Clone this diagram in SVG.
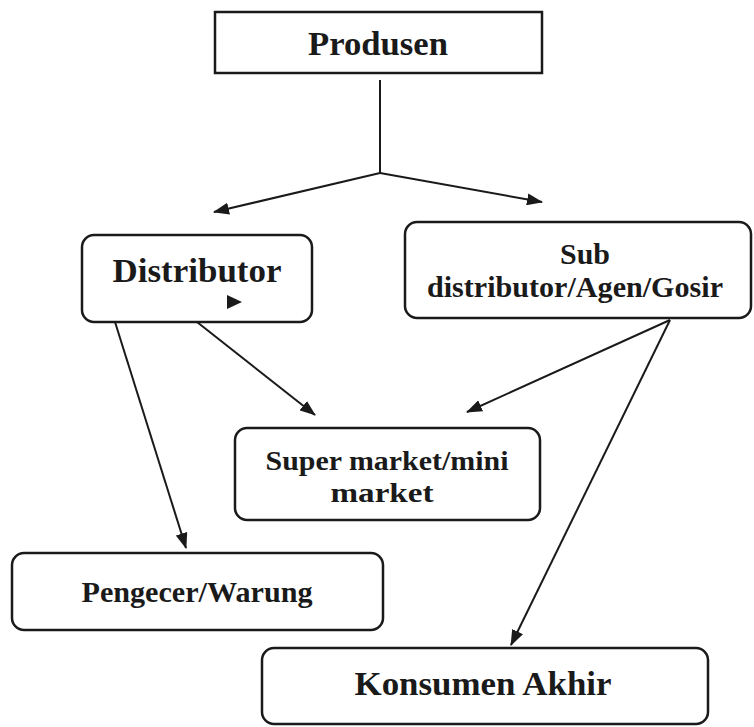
<svg xmlns="http://www.w3.org/2000/svg" width="754" height="727" viewBox="0 0 754 727">
<style>
.box{fill:#fff;stroke:#1a1a1a;stroke-width:2.5}
.t{font-family:"Liberation Serif","Times New Roman",Tinos,serif;font-weight:bold;fill:#1a1a1a;text-anchor:middle}
.c{fill:none;stroke:#1a1a1a;stroke-width:2}
</style>
<defs>
<marker id="ah" markerUnits="userSpaceOnUse" markerWidth="16" markerHeight="12" refX="15" refY="6" orient="auto">
<path d="M0,0 L16,6 L0,12 z" fill="#1a1a1a"/>
</marker>
</defs>
<rect width="754" height="727" fill="#fff"/>
<g id="produsen">
<rect class="box" x="215" y="12" width="327" height="61"/>
<text class="t" x="378" y="55" font-size="34" textLength="140" lengthAdjust="spacingAndGlyphs">Produsen</text>
</g>
<g id="distributor">
<rect class="box" x="82" y="235" width="230" height="87" rx="12"/>
<text class="t" x="197" y="282" font-size="34" textLength="169" lengthAdjust="spacingAndGlyphs">Distributor</text>
<path d="M227,295 L242,302 L227,309 z" fill="#1a1a1a"/>
</g>
<g id="subdistributor">
<rect class="box" x="405" y="222" width="346" height="96" rx="12"/>
<text class="t" x="585" y="264" font-size="29" textLength="50" lengthAdjust="spacingAndGlyphs">Sub</text>
<text class="t" x="575" y="297" font-size="29" textLength="296" lengthAdjust="spacingAndGlyphs">distributor/Agen/Gosir</text>
</g>
<g id="supermarket">
<rect class="box" x="235" y="428" width="305" height="92" rx="12"/>
<text class="t" x="387" y="470" font-size="28" textLength="243" lengthAdjust="spacingAndGlyphs">Super market/mini</text>
<text class="t" x="382" y="502" font-size="28" textLength="103" lengthAdjust="spacingAndGlyphs">market</text>
</g>
<g id="pengecer">
<rect class="box" x="12" y="553" width="371" height="77" rx="12"/>
<text class="t" x="197" y="602" font-size="30" textLength="231" lengthAdjust="spacingAndGlyphs">Pengecer/Warung</text>
</g>
<g id="konsumen">
<rect class="box" x="262" y="648" width="446" height="76" rx="12"/>
<text class="t" x="483" y="695" font-size="34" textLength="257" lengthAdjust="spacingAndGlyphs">Konsumen Akhir</text>
</g>
<g id="connectors">
<path class="c" d="M380,80 L380,173"/>
<path class="c" d="M380,173 L214,212" marker-end="url(#ah)"/>
<path class="c" d="M380,173 L542,202" marker-end="url(#ah)"/>
<path class="c" d="M115,322 L186,548" marker-end="url(#ah)"/>
<path class="c" d="M197,322 L315,415" marker-end="url(#ah)"/>
<path class="c" d="M670,320 L467,412" marker-end="url(#ah)"/>
<path class="c" d="M670,320 L511,645" marker-end="url(#ah)"/>
</g>
</svg>
